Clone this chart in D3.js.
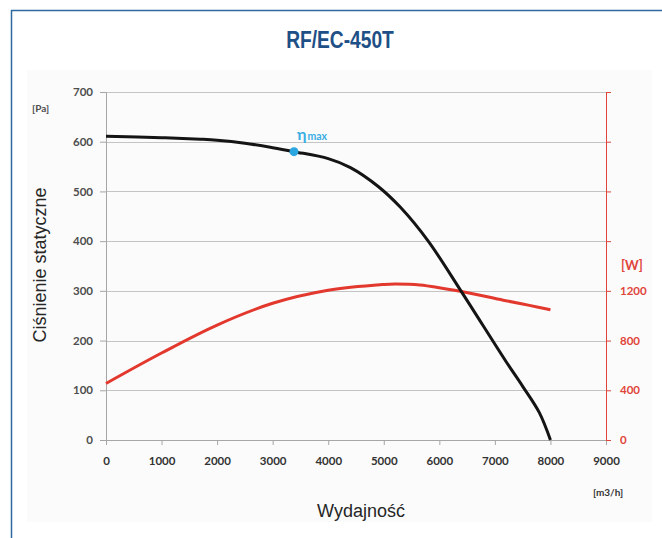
<!DOCTYPE html>
<meta charset="utf-8">
<head>
    <title>RF/EC-450T</title>
    <script src="https://d3js.org/d3.v7.min.js"></script>
</head>
<style type="text/css">
body{
    margin: 0;
    background: #ffffff;
}
.tick text{
    font-family: "Lato", "Liberation Sans", sans-serif;
    font-weight: bold;
    font-size: 11.5px;
}
</style>
<body>
    <svg id="chart" width="662" height="538"></svg>

    <script type="text/javascript">
        // pressure curve [Pa] vs flow [m3/h]
        var flowP = [0, 1000, 1700, 2000, 2500, 3000, 3384, 4000, 4400, 4900, 5300, 5800, 6400, 7200, 7500, 7800, 8000];
        var pressure = [611, 608, 605, 603, 597, 588, 580, 566, 548, 510, 468, 400, 298, 158, 108, 55, 0];

        // power curve [W] vs flow [m3/h]
        var flowW = [0, 1000, 2000, 3000, 4000, 5000, 5200, 5650, 6400, 7150, 7600, 8000];
        var power = [455, 700, 925, 1100, 1205, 1252, 1256, 1248, 1195, 1125, 1085, 1048];

        var etaMax = {flow: 3384, pa: 580};

        var xTicks = [0, 1000, 2000, 3000, 4000, 5000, 6000, 7000, 8000, 9000];
        var yTicks = [0, 100, 200, 300, 400, 500, 600, 700];
        var wTicks = [0, 400, 800, 1200, 1600, 2000, 2400, 2800];
        var wLabels = [0, 400, 800, 1200];

        var svg = d3.select("#chart");

        // frame
        svg.append("rect").attr("x", 27).attr("y", 70).attr("width", 625).attr("height", 452).attr("fill", "#fbfbfb");
        svg.append("line").attr("x1", 11).attr("x2", 662).attr("y1", 10.5).attr("y2", 10.5)
            .attr("stroke", "#2d6aa0").attr("stroke-width", 1.5);
        svg.append("line").attr("x1", 11.5).attr("x2", 11.5).attr("y1", 10).attr("y2", 538)
            .attr("stroke", "#2d6aa0").attr("stroke-width", 1.5);

        svg.append("text")
            .attr("transform", "translate(340,48) scale(0.8,1)")
            .attr("text-anchor", "middle")
            .style("font-family", "'Liberation Sans', Arial, sans-serif")
            .style("font-weight", "bold")
            .style("font-size", "24px")
            .attr("fill", "#1e4f86")
            .text("RF/EC-450T");

        var x = d3.scaleLinear().domain([0, 9000]).range([106, 606]);
        var y = d3.scaleLinear().domain([0, 700]).range([440, 92]);
        var yW = d3.scaleLinear().domain([0, 2800]).range([440, 92]);

        // grid
        svg.append("g").selectAll("line").data(yTicks.slice(1)).enter().append("line")
            .attr("x1", 106).attr("x2", 606)
            .attr("y1", function(d){ return Math.round(y(d)) + 0.5; })
            .attr("y2", function(d){ return Math.round(y(d)) + 0.5; })
            .attr("stroke", "#c4c4c4").attr("stroke-width", 1);

        // left axis
        var gy = svg.append("g").attr("transform", "translate(106,0)")
            .call(d3.axisLeft(y).tickValues(yTicks).tickSize(6).tickPadding(7).tickFormat(d3.format("d")));
        gy.selectAll("line, path").attr("stroke", "#a6a6a6");
        gy.selectAll("text").attr("fill", "#4d4d4d");

        // bottom axis
        var gx = svg.append("g").attr("transform", "translate(0,440)")
            .call(d3.axisBottom(x).tickValues(xTicks).tickSize(5).tickPadding(12).tickFormat(d3.format("d")));
        gx.selectAll("line, path").attr("stroke", "#a6a6a6");
        gx.selectAll("text").attr("fill", "#333333");

        // right axis
        var gw = svg.append("g").attr("transform", "translate(606,0)")
            .call(d3.axisRight(yW).tickValues(wTicks).tickSize(5).tickPadding(9)
                .tickFormat(function(d){ return wLabels.indexOf(d) >= 0 ? d : ""; }));
        gw.selectAll("line, path").attr("stroke", "#e0443a");
        gw.selectAll("text").attr("fill", "#e0443a");

        // unit labels
        svg.append("text").attr("x", 32).attr("y", 112)
            .style("font-family", "Lato, sans-serif").style("font-weight", "bold").style("font-size", "10px")
            .attr("fill", "#4d4d4d").text("[Pa]");
        svg.append("text").attr("x", 621).attr("y", 270)
            .style("font-family", "Lato, sans-serif").style("font-weight", "bold").style("font-size", "13px")
            .attr("fill", "#e0443a").text("[W]");
        svg.append("text").attr("x", 593).attr("y", 496)
            .style("font-family", "Lato, sans-serif").style("font-weight", "bold").style("font-size", "10px")
            .attr("fill", "#333333").text("[m3/h]");

        // axis titles
        svg.append("text").attr("x", 361).attr("y", 517).attr("text-anchor", "middle")
            .style("font-family", "'Liberation Sans', Arial, sans-serif").style("font-size", "18px")
            .attr("fill", "#262626").text("Wydajność");
        svg.append("text").attr("transform", "translate(46,265) rotate(-90)").attr("text-anchor", "middle")
            .style("font-family", "'Liberation Sans', Arial, sans-serif").style("font-size", "18px")
            .attr("fill", "#262626").text("Ciśnienie statyczne");

        // curves
        var lineP = d3.line()
            .x(function(d, i){ return x(flowP[i]); })
            .y(function(d){ return y(d); })
            .curve(d3.curveCatmullRom);
        var lineW = d3.line()
            .x(function(d, i){ return x(flowW[i]); })
            .y(function(d){ return yW(d); })
            .curve(d3.curveCatmullRom);

        svg.append("path").datum(power).attr("d", lineW)
            .attr("fill", "none").attr("stroke", "#e2382d").attr("stroke-width", 3);
        svg.append("path").datum(pressure).attr("d", lineP)
            .attr("fill", "none").attr("stroke", "#141414").attr("stroke-width", 3);

        // eta max
        svg.append("circle").attr("cx", x(etaMax.flow)).attr("cy", y(etaMax.pa)).attr("r", 4.5)
            .attr("fill", "#2aa6e0");
        var eta = svg.append("text").attr("x", x(etaMax.flow) + 3).attr("y", y(etaMax.pa) - 12)
            .style("font-family", "Lato, sans-serif").style("font-weight", "bold")
            .attr("fill", "#3aaee3");
        eta.append("tspan").style("font-size", "16px").text("η");
        eta.append("tspan").style("font-size", "10.5px").attr("dx", 1).text("max");
    </script>
</body>
